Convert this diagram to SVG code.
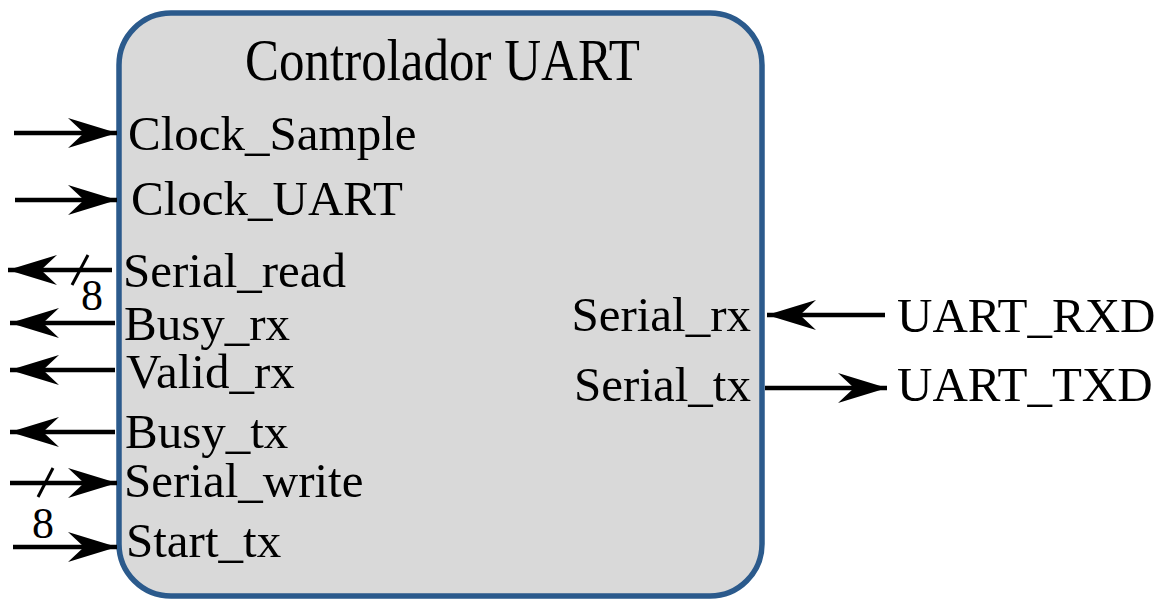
<svg xmlns="http://www.w3.org/2000/svg" width="1167" height="599" viewBox="0 0 1167 599">
<style>
.lbl{font-family:"Liberation Serif","Times New Roman",serif;font-size:49px;fill:#000}
.num{font-family:"Liberation Serif","Times New Roman",serif;font-size:44px;fill:#000;text-anchor:middle}
.wire{stroke:#000;stroke-width:4.5;fill:none;marker-end:url(#ah)}
.slash{stroke:#000;stroke-width:3;fill:none}
</style>
<defs>
<marker id="ah" markerUnits="userSpaceOnUse" viewBox="-52 -17 54 34" refX="0" refY="0" markerWidth="54" markerHeight="34" orient="auto">
<path d="M0,0 L-49,-15 L-33,0 L-49,15 Z" fill="#000"/>
</marker>
</defs>
<rect width="1167" height="599" fill="#fff"/>
<g id="controlador">
<rect x="119" y="13" width="643" height="583" rx="52" ry="52" fill="#d9d9d9" stroke="#2b5a8c" stroke-width="5.5"/>
<text class="lbl" x="245" y="80" style="font-size:60px" textLength="395" lengthAdjust="spacingAndGlyphs">Controlador UART</text>
<text class="lbl" x="128" y="150">Clock_Sample</text>
<text class="lbl" x="131" y="215">Clock_UART</text>
<text class="lbl" x="123" y="287">Serial_read</text>
<text class="lbl" x="124" y="340">Busy_rx</text>
<text class="lbl" x="126" y="388">Valid_rx</text>
<text class="lbl" x="125" y="448">Busy_tx</text>
<text class="lbl" x="124" y="497">Serial_write</text>
<text class="lbl" x="126" y="557">Start_tx</text>
<text class="lbl" x="751" y="331" text-anchor="end">Serial_rx</text>
<text class="lbl" x="751" y="401" text-anchor="end">Serial_tx</text>
</g>
<g id="uart_rxd"><text class="lbl" x="897" y="332">UART_RXD</text></g>
<g id="uart_txd"><text class="lbl" x="897" y="401">UART_TXD</text></g>
<g id="connectors">
<path class="wire" d="M14,133 L117,133"/>
<path class="wire" d="M15,200 L117,200"/>
<path class="wire" d="M112,270 L8,270"/>
<path class="wire" d="M115,323 L10,323"/>
<path class="wire" d="M115,370 L10,370"/>
<path class="wire" d="M115,432 L10,432"/>
<path class="wire" d="M10,483 L117,483"/>
<path class="wire" d="M13,547 L117,547"/>
<path class="wire" d="M885,315 L767,315"/>
<path class="wire" d="M765,388 L887,388"/>
<path class="slash" d="M72,285 L88,255"/>
<path class="slash" d="M38,497 L53,468"/>
<text class="num" x="92" y="310">8</text>
<text class="num" x="43" y="538">8</text>
</g>
</svg>
